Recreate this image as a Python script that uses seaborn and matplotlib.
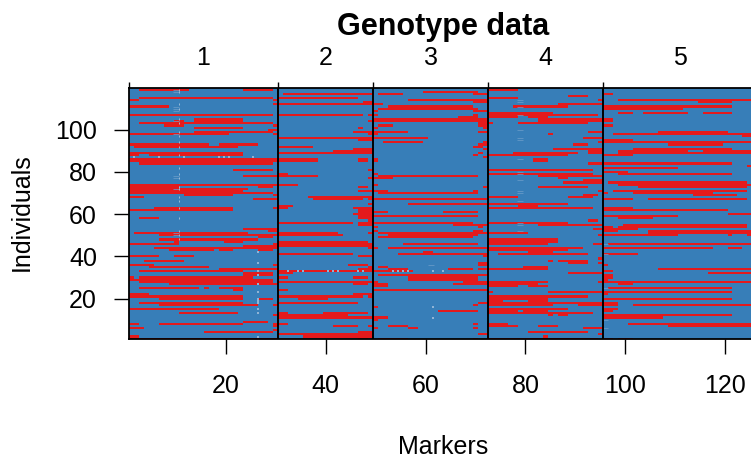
import matplotlib

matplotlib.use("Agg")

import matplotlib.pyplot as plt
import numpy as np
import seaborn as sns
from matplotlib.colors import ListedColormap

N_INDIVIDUALS = 120
N_MARKERS = 126

# red stretches per chromosome: (individual, first marker, last marker)
chr1_runs = [
    (119, 3, 12), (119, 24, 29), (115, 3, 29), (114, 1, 2), (114, 30, 30), (112, 30, 30),
    (111, 1, 8), (107, 1, 29), (105, 14, 23), (104, 14, 23), (104, 10, 11), (103, 3, 29),
    (102, 8, 11), (102, 30, 30), (101, 14, 23), (100, 29, 30), (99, 14, 29), (98, 1, 20),
    (98, 30, 30), (93, 1, 16), (93, 19, 26), (92, 2, 22), (89, 1, 23), (88, 1, 2), (88, 5, 23),
    (86, 1, 30), (85, 1, 30), (84, 3, 29), (81, 22, 29), (78, 24, 30), (74, 1, 30), (73, 1, 10),
    (73, 27, 29), (72, 1, 24), (71, 1, 23), (70, 1, 29), (69, 12, 21), (69, 30, 30), (68, 1, 3),
    (67, 26, 30), (63, 6, 21), (63, 30, 30), (62, 1, 21), (58, 3, 6), (53, 24, 30),
    (52, 29, 30), (51, 2, 24), (50, 7, 30), (49, 27, 29), (48, 7, 26), (47, 20, 23), (47, 10, 10),
    (46, 1, 10), (46, 30, 30), (45, 24, 30), (44, 6, 30), (43, 9, 17), (43, 19, 21), (43, 27, 29),
    (40, 1, 6), (40, 10, 13), (38, 4, 11), (36, 1, 5), (36, 30, 30), (35, 5, 16), (34, 19, 30),
    (33, 3, 23), (32, 24, 29), (31, 24, 29), (30, 1, 1), (30, 3, 25), (29, 1, 29), (28, 3, 29),
    (27, 9, 30), (25, 3, 14), (25, 16, 16), (25, 19, 23), (24, 22, 23), (22, 1, 4), (21, 1, 23),
    (20, 7, 23), (20, 27, 29), (18, 3, 23), (17, 7, 26), (17, 30, 30), (15, 1, 18), (13, 11, 22),
    (12, 30, 30), (9, 24, 28), (8, 1, 2), (8, 7, 23), (8, 30, 30), (7, 30, 30), (6, 1, 3),
    (5, 30, 30), (4, 16, 29), (2, 1, 2), (1, 1, 30),
]
chr2_runs = [
    (117, 32, 49), (115, 31, 46), (113, 48, 49), (112, 31, 49), (107, 31, 47), (107, 49, 49),
    (104, 49, 49), (101, 47, 47), (99, 46, 49), (98, 49, 49), (96, 31, 49), (95, 47, 49),
    (92, 31, 37), (91, 46, 49), (90, 42, 49), (89, 31, 49), (86, 31, 38), (85, 31, 38),
    (86, 47, 48), (85, 47, 48), (81, 49, 49), (79, 31, 32), (78, 31, 38), (77, 49, 49),
    (74, 31, 34), (73, 47, 48), (71, 47, 49), (68, 37, 49), (67, 38, 47), (67, 49, 49),
    (65, 49, 49), (64, 31, 33), (63, 31, 32), (63, 46, 49), (62, 47, 49), (61, 47, 49),
    (60, 46, 49), (59, 47, 49), (58, 47, 49), (57, 49, 49), (56, 31, 45), (56, 47, 49),
    (55, 47, 49), (51, 31, 42), (51, 49, 49), (50, 31, 43), (47, 31, 48), (46, 31, 48),
    (45, 31, 48), (46, 49, 49), (45, 49, 49), (44, 49, 49), (41, 31, 45), (40, 47, 49),
    (36, 45, 48), (35, 49, 49), (34, 47, 49), (33, 31, 49), (32, 31, 33), (30, 31, 32),
    (30, 46, 48), (28, 31, 49), (27, 46, 48), (24, 31, 32), (22, 46, 49), (21, 31, 47),
    (21, 49, 49), (20, 35, 40), (18, 31, 46), (13, 31, 32), (13, 40, 48), (12, 31, 44),
    (11, 31, 49), (8, 31, 32), (7, 42, 46), (7, 49, 49), (4, 47, 49), (3, 31, 49), (2, 36, 49),
    (1, 47, 48),
]
chr3_runs = [
    (118, 60, 70), (117, 51, 55), (117, 70, 72), (114, 57, 72), (113, 70, 72), (112, 50, 51),
    (111, 53, 69), (110, 51, 70), (109, 50, 50), (109, 70, 72), (107, 50, 50), (107, 70, 70),
    (106, 67, 70), (105, 50, 72), (104, 50, 72), (103, 71, 72), (102, 51, 53), (102, 71, 72),
    (101, 50, 50), (101, 72, 72), (99, 50, 56), (99, 71, 72), (98, 50, 50), (96, 50, 60),
    (94, 52, 59), (94, 72, 72), (93, 71, 72), (92, 70, 71), (91, 72, 72), (89, 71, 71),
    (88, 70, 70), (87, 72, 72), (86, 50, 50), (85, 50, 50), (79, 50, 50), (78, 51, 70),
    (77, 50, 53), (74, 50, 50), (73, 72, 72), (71, 50, 52), (71, 70, 70), (70, 51, 70),
    (67, 50, 72), (65, 57, 72), (61, 50, 52), (61, 64, 70), (59, 50, 70),
    (56, 50, 69), (55, 66, 72), (54, 50, 50), (54, 71, 71), (52, 50, 50),
    (52, 70, 71), (51, 51, 72), (50, 53, 70), (49, 51, 69), (46, 56, 70), (44, 50, 50),
    (44, 53, 72), (42, 60, 61), (41, 55, 72), (40, 72, 72), (37, 71, 72), (36, 71, 72),
    (35, 51, 52), (34, 53, 56), (34, 65, 69), (34, 71, 72), (33, 50, 57), (31, 51, 72),
    (30, 57, 70), (29, 57, 70), (28, 50, 50), (28, 68, 72), (27, 50, 52), (27, 66, 72),
    (26, 50, 52), (24, 50, 72), (18, 71, 72), (17, 70, 70), (16, 50, 50), (14, 63, 70),
    (11, 50, 52), (10, 50, 50), (8, 70, 70), (7, 53, 56), (6, 50, 50), (6, 57, 58), (6, 70, 70),
    (3, 71, 72), (1, 51, 56), (1, 70, 70),
]
chr4_runs = [
    (119, 73, 78), (116, 89, 92), (115, 73, 78), (114, 95, 95), (112, 87, 95), (111, 78, 88),
    (108, 73, 85), (107, 73, 94), (106, 73, 78), (106, 81, 84), (105, 83, 95), (104, 83, 95),
    (103, 73, 73), (103, 79, 92), (99, 93, 95), (98, 85, 85), (96, 92, 95), (94, 95, 95),
    (93, 90, 92), (91, 86, 95), (90, 93, 95), (89, 78, 90), (89, 93, 95), (88, 73, 88),
    (86, 82, 84), (85, 82, 84), (84, 93, 95), (81, 73, 93), (79, 73, 93), (78, 83, 95),
    (77, 87, 88), (76, 92, 95), (75, 88, 95), (73, 83, 92), (71, 95, 95), (69, 92, 94),
    (68, 73, 78), (68, 89, 93), (65, 85, 88), (65, 73, 88), (64, 79, 82), (63, 73, 93),
    (57, 93, 94), (56, 73, 88), (55, 83, 95), (53, 94, 95), (51, 73, 80), (50, 95, 95),
    (48, 73, 86), (47, 73, 86), (46, 73, 84), (46, 94, 95), (44, 73, 91), (43, 73, 88),
    (42, 81, 85), (41, 75, 92), (39, 95, 95), (38, 85, 85), (38, 87, 92), (37, 89, 92),
    (37, 95, 95), (35, 80, 84), (34, 73, 84), (32, 89, 95), (28, 73, 84), (28, 95, 95),
    (27, 73, 82), (26, 73, 78), (26, 81, 84), (23, 85, 95), (23, 73, 73), (21, 73, 92),
    (20, 73, 84), (19, 73, 75), (19, 81, 84), (18, 73, 95), (17, 73, 85), (17, 91, 95),
    (15, 73, 88), (14, 73, 78), (14, 80, 84), (13, 73, 93), (12, 85, 85), (12, 87, 88),
    (8, 73, 76), (7, 73, 78), (7, 83, 86), (6, 92, 95), (4, 81, 92), (3, 95, 95), (2, 84, 84),
    (1, 73, 94),
]
chr5_runs = [
    (117, 96, 97), (114, 99, 126), (113, 115, 121), (111, 96, 121), (110, 96, 111), (108, 99, 101),
    (108, 104, 112), (108, 116, 121), (105, 96, 97), (104, 96, 97), (102, 96, 97), (99, 107, 120),
    (98, 98, 126), (97, 124, 126), (95, 96, 101), (94, 96, 126), (93, 109, 119), (91, 102, 121),
    (90, 99, 112), (90, 116, 126), (89, 99, 126), (88, 96, 101), (84, 96, 121), (83, 125, 126),
    (82, 96, 110), (80, 96, 100), (79, 99, 121), (75, 97, 124), (74, 99, 126), (73, 103, 124),
    (71, 98, 124), (70, 96, 96), (70, 102, 117), (69, 114, 122), (67, 96, 101), (67, 105, 124),
    (63, 96, 101), (62, 96, 120), (60, 121, 126), (59, 96, 110),
    (58, 99, 105), (55, 100, 124), (54, 96, 97), (54, 99, 124), (53, 96, 102), (52, 96, 98),
    (52, 105, 126), (51, 105, 126), (50, 96, 110), (50, 121, 121), (50, 125, 126), (46, 97, 126),
    (44, 96, 117), (44, 121, 123), (41, 96, 102), (36, 96, 96), (34, 107, 126), (33, 96, 97),
    (32, 117, 126), (31, 96, 97), (30, 96, 97), (29, 96, 96), (28, 96, 126), (27, 99, 101),
    (25, 97, 121), (23, 96, 121), (22, 96, 96), (20, 96, 121), (18, 96, 98), (17, 96, 98),
    (17, 102, 126), (15, 96, 98), (14, 96, 97), (12, 96, 121), (11, 96, 107), (8, 101, 126),
    (7, 109, 126), (1, 96, 97), (1, 99, 101),
]

chr_names = ["1", "2", "3", "4", "5"]
chr_last_marker = [30, 49, 72, 95, 126]

# missing genotypes, (individual, marker)
missing_dashes = [
    (119, 10), (118, 10), (112, 10), (110, 10), (105, 10), (103, 10), (99, 10), (97, 10), (94, 10),
    (92, 10), (88, 10), (82, 10), (79, 10), (77, 10), (73, 10), (72, 10), (68, 10), (66, 10),
    (63, 10), (58, 10), (52, 10), (50, 10), (48, 10),
]
missing_dots = [
    (87, 1), (87, 6), (87, 11), (87, 18), (87, 19), (87, 20), (87, 25),
    (42, 26), (37, 26), (33, 26), (31, 26), (27, 26), (23, 26), (20, 26), (19, 26), (18, 26),
    (15, 26), (13, 26), (2, 26),
    (33, 32), (33, 34), (33, 35), (33, 40), (33, 41), (33, 42), (33, 46), (33, 47),
    (33, 53), (33, 54), (33, 55), (33, 56), (33, 61), (33, 63), (16, 61), (11, 61),
]
faint_cells = [
    (119, 10), (118, 10), (111, 10), (110, 10), (109, 10), (104, 10), (98, 10), (78, 10), (77, 10),
    (72, 10), (51, 10), (50, 10), (36, 61), (114, 79), (113, 79), (111, 79), (107, 79), (100, 79),
    (96, 79), (95, 79), (86, 79), (80, 79), (79, 79), (76, 79), (71, 79), (70, 79), (66, 79),
    (56, 79), (55, 79), (52, 79), (46, 96), (41, 96), (25, 96), (10, 96), (6, 96),
]

x_ticks = [20, 40, 60, 80, 100, 120]
y_ticks = [20, 40, 60, 80, 100]


def build_matrix():
    matrix = np.zeros((N_INDIVIDUALS, N_MARKERS))
    for runs in [chr1_runs, chr2_runs, chr3_runs, chr4_runs, chr5_runs]:
        for individual, first, last in runs:
            matrix[N_INDIVIDUALS - individual, first - 1:last] = 1
    return matrix


def main():
    sns.set_theme(style="white")
    plt.rcParams["font.family"] = ["Liberation Sans", "DejaVu Sans"]

    figure = plt.figure(figsize=(7.51, 4.58), dpi=100)
    axis = figure.add_axes([128.7 / 751, 1 - 339.3 / 458, (751 - 128.7) / 751, 251 / 458])

    sns.heatmap(
        build_matrix(),
        cmap=ListedColormap(["#377EB8", "#E41A1C"]),
        vmin=0,
        vmax=1,
        cbar=False,
        xticklabels=False,
        yticklabels=False,
        ax=axis,
    )
    axis.set_xlim(0, 622.3 / 4.99)
    axis.set_ylim(N_INDIVIDUALS - 0.19, N_INDIVIDUALS - 251.4 / 2.11)

    dash = np.array(missing_dashes)
    dots = np.array(missing_dots)
    faint = np.array(faint_cells)
    axis.scatter(faint[:, 1] - 0.5, N_INDIVIDUALS - faint[:, 0] + 0.5, marker="_", s=13, linewidths=0.5, color="#6f9fca", zorder=3)
    axis.scatter(dash[:, 1], N_INDIVIDUALS - dash[:, 0] + 0.5, marker="|", s=3, linewidths=0.6, color="#a9c6de", zorder=3)
    axis.scatter(dots[:, 1], N_INDIVIDUALS - dots[:, 0] + 0.5, marker="s", s=0.8, linewidths=0, color="#8fb4d6", zorder=3)

    for spine in axis.spines.values():
        spine.set_visible(True)
        spine.set_color("black")
        spine.set_linewidth(1.3)
    axis.spines["right"].set_visible(False)

    axis.set_xticks([tick - 0.5 for tick in x_ticks], labels=[str(t) for t in x_ticks])
    axis.set_yticks([N_INDIVIDUALS - tick + 0.5 for tick in y_ticks], labels=[str(t) for t in y_ticks])
    axis.tick_params(axis="x", bottom=True, length=10.8, width=1, color="black", pad=14, labelsize=18, labelcolor="black")
    axis.tick_params(axis="y", left=True, length=10.8, width=1, color="black", pad=12, labelsize=18, labelcolor="black", labelrotation=0)

    edges = [0] + chr_last_marker
    axis.vlines(edges[1:-1], 0, N_INDIVIDUALS, color="black", linewidth=1.4, zorder=4)
    top = axis.secondary_xaxis("top")
    top.set_xticks(edges[:-1], labels=[])
    top.tick_params(axis="x", top=True, length=4.3, width=1, color="black")
    top.spines["top"].set_visible(False)
    label_y = (339.3 - 58) / 251
    for name, start, stop in zip(chr_names, edges[:-1], edges[1:]):
        axis.text((start + stop) / 2, label_y, name, transform=axis.get_xaxis_transform(), ha="center", va="center", fontsize=18, color="black")

    figure.text(443 / 751, 1 - 27 / 458, "Genotype data", ha="center", va="center", fontsize=22, fontweight="bold", color="black")
    figure.text(443 / 751, 1 - 447 / 458, "Markers", ha="center", va="center", fontsize=18, color="black")
    figure.text(22 / 751, 1 - 212.5 / 458, "Individuals", ha="center", va="center", rotation=90, fontsize=18, color="black")

    figure.savefig("out.png", dpi=100)
    plt.close(figure)


if __name__ == "__main__":
    main()
